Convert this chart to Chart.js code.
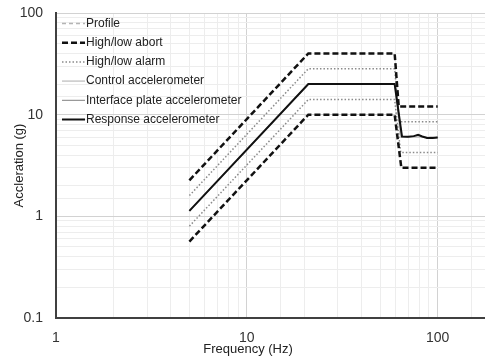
<!DOCTYPE html>
<html>
<head>
<meta charset="utf-8">
<script src="https://cdn.jsdelivr.net/npm/chart.js@4"></script>
<style>
	html, body { margin: 0; padding: 0; background: #fff; overflow: hidden; }
</style>
</head>
<body>
<canvas id="myChart" width="485" height="356"></canvas>
<script>
// frequency (Hz) / acceleration (g)
const profileHz = [5, 21, 60, 64, 100];
const profileG = [1.13, 20, 20, 6, 6];

const abortHighHz = [5, 21, 59.5, 62.5, 100];
const abortHighG = [2.26, 40, 40, 12, 12];
const abortLowHz = [5, 21, 59.5, 64.5, 100];
const abortLowG = [0.565, 10, 10, 3, 3];

const alarmHighHz = [5, 21, 59.5, 63, 100];
const alarmHighG = [1.6, 28.3, 28.3, 8.5, 8.5];
const alarmLowHz = [5, 21, 59.5, 64, 100];
const alarmLowG = [0.8, 14.1, 14.1, 4.25, 4.25];

const responseHz = [5, 21, 59.5, 65, 70, 75, 79, 83, 88, 94, 100];
const responseG = [1.13, 20, 20, 6.1, 6.05, 6.15, 6.35, 6.1, 5.9, 5.9, 5.95];

const xTickLabels = [1, 10, 100];
const yTickLabels = [0.1, 1, 10, 100];

const pts = (xs, ys) => xs.map((x, i) => ({ x: x, y: ys[i] }));
const isLabelTick = (v, list) => list.some((t) => Math.abs(v - t) < t * 1e-6);

const FONT = "'Liberation Sans', Arial, sans-serif";

const datasets = [
	{ label: "Profile", data: pts(profileHz, profileG), borderColor: "#b4b4b4", borderWidth: 1.5, borderDash: [4, 3], order: 5 },
	{ label: "High/low abort", data: pts(abortHighHz, abortHighG), borderColor: "#111", borderWidth: 2.5, borderDash: [6, 3], order: 1 },
	{ label: "High/low abort", data: pts(abortLowHz, abortLowG), borderColor: "#111", borderWidth: 2.5, borderDash: [6, 3], order: 1, noLegend: true },
	{ label: "High/low alarm", data: pts(alarmHighHz, alarmHighG), borderColor: "#8a8a8a", borderWidth: 1.5, borderDash: [1.5, 2], order: 2 },
	{ label: "High/low alarm", data: pts(alarmLowHz, alarmLowG), borderColor: "#8a8a8a", borderWidth: 1.5, borderDash: [1.5, 2], order: 2, noLegend: true },
	{ label: "Control accelerometer", data: pts(profileHz, profileG), borderColor: "#c8c8c8", borderWidth: 1.5, order: 4 },
	{ label: "Interface plate accelerometer", data: pts(responseHz, responseG), borderColor: "#808080", borderWidth: 1, order: 3 },
	{ label: "Response accelerometer", data: pts(responseHz, responseG), borderColor: "#111", borderWidth: 2, order: 0 },
];
datasets.forEach((d) => {
	d.pointRadius = 0;
	d.fill = false;
	d.tension = 0;
});

// legend inside the plot, top left, plus the x title
const insideLegend = {
	id: "insideLegend",
	afterDraw(chart) {
		const ctx = chart.ctx;
		ctx.save();
		ctx.font = "12px " + FONT;
		ctx.textBaseline = "middle";
		ctx.textAlign = "left";
		let y = 23.5;
		chart.data.datasets.forEach((d) => {
			if (d.noLegend) return;
			ctx.beginPath();
			ctx.strokeStyle = d.borderColor;
			ctx.lineWidth = d.borderWidth;
			ctx.setLineDash(d.borderDash || []);
			ctx.moveTo(62, y);
			ctx.lineTo(85, y);
			ctx.stroke();
			ctx.setLineDash([]);
			ctx.fillStyle = "#222";
			ctx.fillText(d.label, 86, y);
			y += 19.2;
		});
		ctx.font = "13px " + FONT;
		ctx.textAlign = "center";
		ctx.fillStyle = "#222";
		ctx.fillText("Frequency (Hz)", 248, 349);
		ctx.restore();
	},
};

const gridColor = (list) => (c) => (c.tick && isLabelTick(c.tick.value, list) ? "#d2d2d2" : "#ededed");

new Chart(document.getElementById("myChart"), {
	type: "line",
	data: { datasets: datasets },
	plugins: [insideLegend],
	options: {
		responsive: false,
		animation: false,
		layout: { padding: { top: 13, right: 0, left: 0, bottom: 0 } },
		plugins: { legend: { display: false }, tooltip: { enabled: false } },
		scales: {
			x: {
				type: "logarithmic",
				min: 1,
				max: 177,
				grid: { color: gridColor(xTickLabels), drawTicks: false },
				border: { color: "#404040", width: 2 },
				ticks: {
					autoSkip: false,
					maxRotation: 0,
					padding: 12,
					color: "#333",
					font: { family: FONT, size: 14 },
					callback: (v) => (isLabelTick(v, xTickLabels) ? String(v) : ""),
				},
				afterFit: (s) => {
					s.height = 38;
					s.paddingLeft = 0;
					s.paddingRight = 0;
				},
			},
			y: {
				type: "logarithmic",
				min: 0.1,
				max: 100,
				grid: { color: gridColor(yTickLabels), drawTicks: false },
				border: { color: "#404040", width: 2 },
				title: {
					display: true,
					text: "Accleration (g)",
					color: "#222",
					font: { family: FONT, size: 13 },
					padding: { top: 12, bottom: 0 },
				},
				ticks: {
					autoSkip: false,
					padding: 13,
					color: "#333",
					font: { family: FONT, size: 14 },
					callback: (v) => (isLabelTick(v, yTickLabels) ? String(Number(v.toPrecision(3))) : ""),
				},
				afterFit: (s) => {
					s.width = 56;
					s.paddingTop = 0;
					s.paddingBottom = 0;
				},
			},
		},
	},
});
</script>
</body>
</html>
